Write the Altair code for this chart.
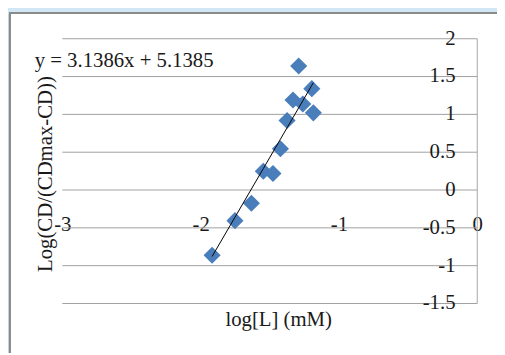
import altair as alt
import pandas as pd

# data
log_l = [-1.917, -1.752, -1.633, -1.547, -1.477, -1.423, -1.375, -1.332, -1.291, -1.196, -1.261, -1.185]
log_cd = [-0.862, -0.405, -0.174, 0.248, 0.218, 0.545, 0.92, 1.19, 1.64, 1.34, 1.137, 1.02]
slope = 3.1386
intercept = 5.1385
x_ticks = [-3, -2, -1, 0]
y_ticks = [-1.5, -1, -0.5, 0, 0.5, 1, 1.5, 2]
y_labels = ["-1.5", "-1", "-0.5", "0", "0.5", "1", "1.5", "2"]
equation = "y = 3.1386x + 5.1385"
x_title = "log[L] (mM)"
y_title = "Log(CD/(CDmax-CD))"

df = pd.DataFrame({"x": log_l, "y": log_cd})
ticks_df = pd.DataFrame({"v": y_ticks, "lab": y_labels})
FONT = "Liberation Serif"
one = pd.DataFrame({"a": [0]})

xs = alt.Scale(domain=[-3, 0], nice=False, zero=False)
ys = alt.Scale(domain=[-1.5, 2], nice=False, zero=False)

# window-like backdrop: blue strips left and top, grey frame line
left_strip = alt.Chart(one).mark_rect(fill="#bcd6ee", stroke="#bcd6ee").encode(
    x=alt.value(-75), x2=alt.value(-53), y=alt.value(-45), y2=alt.value(340)
)
top_strip = alt.Chart(one).mark_rect(fill="#d2e7f5", stroke="#d2e7f5").encode(
    x=alt.value(-75), x2=alt.value(470), y=alt.value(-45), y2=alt.value(-26)
)
frame = alt.Chart(one).mark_rect(
    fillOpacity=0, stroke="#8a8a8a", strokeWidth=2
).encode(
    x=alt.value(-53), x2=alt.value(460), y=alt.value(-26), y2=alt.value(330)
)

# horizontal gridlines and value labels of the vertical axis (at x = 0, right edge)
grid = alt.Chart(ticks_df).mark_rule(color="#a0a0a0", strokeWidth=1).encode(
    y=alt.Y("v:Q", scale=ys, axis=None),
    x=alt.value(0), x2=alt.value(420),
)
ylab = alt.Chart(ticks_df).mark_text(
    align="right", baseline="middle", font=FONT, fontSize=21, color="#1a1a1a", dx=0
).encode(
    y=alt.Y("v:Q", scale=ys, axis=None),
    x=alt.value(398),
    text="lab:N",
)
yaxis_line = alt.Chart(one).mark_rule(color="#a6a6a6", strokeWidth=1).encode(
    x=alt.value(420), y=alt.value(0), y2=alt.value(268)
)

base = alt.Chart(df)

points = base.mark_point(
    shape="diamond", filled=True, size=300, color="#4a7ebb", opacity=1
).encode(
    x=alt.X("x:Q", scale=xs,
            axis=alt.Axis(values=x_ticks, orient="bottom", offset=-80, grid=False,
                          domain=False, ticks=False, tickSize=0, labelPadding=0,
                          labelBaseline="middle", labelFlush=False, labelOverlap=False,
                          labelExpr="'' + datum.value", labelFont=FONT,
                          labelFontSize=21, labelColor="#1a1a1a", title=None)),
    y=alt.Y("y:Q", scale=ys, axis=None),
)

trend = base.transform_calculate(
    fit=f"{slope} * datum.x + {intercept}"
).mark_line(color="black", strokeWidth=1).encode(
    x=alt.X("x:Q", scale=xs),
    y=alt.Y("fit:Q", scale=ys, axis=None),
    order="x:Q",
)

eq_text = alt.Chart(pd.DataFrame({"t": [equation]})).mark_text(
    align="left", baseline="middle", font=FONT, fontSize=21, color="#1a1a1a"
).encode(x=alt.value(-28), y=alt.value(23), text="t:N")

xt = alt.Chart(pd.DataFrame({"t": [x_title]})).mark_text(
    align="center", baseline="middle", font=FONT, fontSize=21, color="#1a1a1a"
).encode(x=alt.value(219), y=alt.value(285), text="t:N")

yt = alt.Chart(pd.DataFrame({"t": [y_title]})).mark_text(
    align="center", baseline="alphabetic", angle=270, font=FONT, fontSize=21, color="#1a1a1a"
).encode(x=alt.value(-10), y=alt.value(137), text="t:N")

chart = alt.layer(
    left_strip, top_strip, frame, grid, yaxis_line, ylab, points, trend, eq_text, xt, yt
).properties(
    width=420, height=268,
    padding={"left": 55, "top": 29, "right": 20, "bottom": 48},
    autosize=alt.AutoSizeParams(type="none"),
    background="white",
).configure_view(strokeWidth=0)

chart.save("out.html", embed_options={"renderer": "svg", "actions": False})
